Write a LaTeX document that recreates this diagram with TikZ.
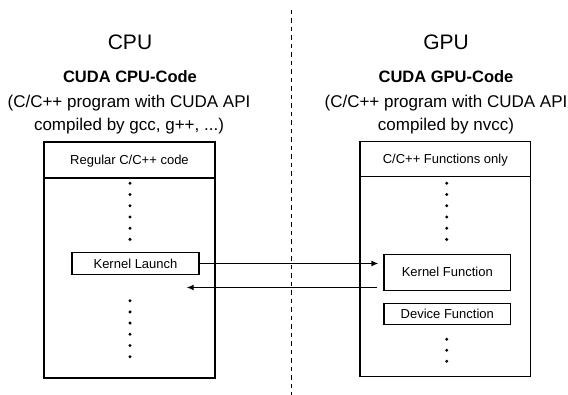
\documentclass[tikz,border=0pt]{standalone}
\usepackage{fontspec}
\setmainfont{Liberation Sans}
\usetikzlibrary{arrows.meta}
\begin{document}
\begin{tikzpicture}[x=1pt,y=-1pt,
  frame/.style={draw,line width=1.3pt},
  inner/.style={draw,line width=1.2pt,inner sep=0pt,font=\fontsize{13}{15}\selectfont},
  head/.style={font=\fontsize{21}{25}\selectfont},
  sub/.style={font=\fontsize{16.5}{20}\selectfont\bfseries},
  note/.style={font=\fontsize{17}{23}\selectfont,align=center},
  dotmark/.style={fill,circle,inner sep=0pt,minimum size=3.3pt},
  link/.style={line width=1.3pt,-{Latex[length=7pt,width=6pt]}}]
\useasboundingbox (0,0) rectangle (568,395);

% host / device separator
\coordinate (septop) at (291.7,10);
\coordinate (sepbot) at (291.7,395);
\draw[line width=1.3pt,dash pattern=on 4.5pt off 4pt] (septop) -- (sepbot);

% column titles
\node[head] (cpu) at (130,42) {CPU};
\node[head] (gpu) at (446,42) {GPU};
\node[sub] (cpucode) at (130,77) {CUDA CPU-Code};
\node[sub] (gpucode) at (446,77) {CUDA GPU-Code};
\node[note] (cpunote) at (129,115) {(C/C++ program with CUDA API\\compiled by gcc, g++, ...)};
\node[note] (gpunote) at (446,115) {(C/C++ program with CUDA API\\compiled by nvcc)};

% host code block
\draw[frame] (44,142) rectangle (215,378);
\draw[frame] (44,178) -- (215,178);
\node[font=\fontsize{13}{15}\selectfont] (hosthead) at (129.5,161) {Regular C/C++ code};
\foreach \y [count=\i] in {183.3,194.5,205.7,217,228.2,239.4,300.7,311.9,323.1,334.3,345.5,356.7}
  \node[dotmark] (hd\i) at (130,\y) {};
\node[inner,minimum width=127pt,minimum height=21.3pt] (launch) at (135.5,263.5) {Kernel Launch};

% device code block
\draw[frame] (360,141.7) rectangle (530.7,376.7);
\draw[frame] (360,176.7) -- (530.7,176.7);
\node[font=\fontsize{13}{15}\selectfont] (devhead) at (445.3,160) {C/C++ Functions only};
\foreach \y [count=\i] in {183.3,194.5,205.7,217,228.2,239.4,339.3,350.3,361.3}
  \node[dotmark] (dd\i) at (446.7,\y) {};
\node[inner,minimum width=126.7pt,minimum height=36pt] (kfun) at (447.3,272.3) {Kernel Function};
\node[inner,minimum width=126.7pt,minimum height=21pt] (dfun) at (447.3,313.8) {Device Function};

% launch and return
\coordinate (callend) at ([xshift=-5pt]kfun.west |- launch.east);
\draw[link] (launch.east) -- (callend);
\coordinate (retstart) at (377,287.5);
\coordinate (retend) at (186.7,287.5);
\draw[link] (retstart) -- (retend);
\end{tikzpicture}
\end{document}
